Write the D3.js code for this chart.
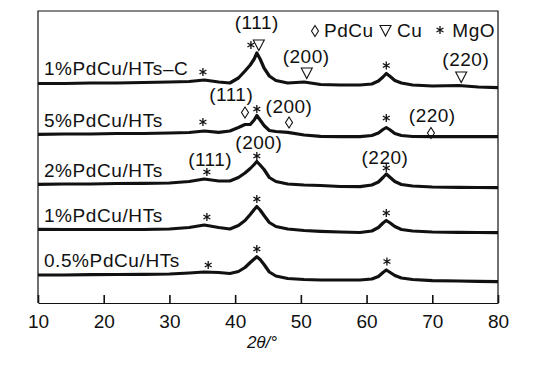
<!DOCTYPE html>
<html>

<head>
  <meta charset="utf-8">
  <style>
    body { margin: 0; background: #fff; }
    text { font-family: "Liberation Sans", Arial, sans-serif; fill: #111; }
  </style>
</head>

<body>
  <script src="https://d3js.org/d3.v7.min.js"></script>
  <script>
    // 2theta grid (deg) shared by every pattern
    var twoTheta = [10, 14, 18, 22, 26, 30, 33, 35.3, 37.5, 39.2, 40.5, 41.5, 42.3, 42.9, 43.3, 43.8, 44.4, 45.2, 46.2, 48,
      50.5, 53, 56, 59, 60.8, 61.8, 62.5, 63, 63.6, 64.3, 65.3, 67, 70, 74, 77, 80];

    // stacked intensities (a.u., offsets included)
    var pdcuHtsC = [219.5, 219.5, 220, 220, 220.5, 221, 221.5, 223, 221, 220, 225, 232, 238, 244, 250, 244, 235, 227, 222.5, 220,
      221, 218.5, 218, 218, 219, 222, 226, 229.5, 226.5, 222.5, 220, 218, 217, 217.5, 216, 215.3];
    var pdcu5 = [168.7, 169, 169, 169.5, 169.5, 170, 170.5, 172, 170.7, 172, 175.5, 178.5, 178.5, 183, 187.5, 183, 177.5, 172.5, 171.5, 170.7,
      168, 166.7, 166.3, 166.3, 167.5, 170, 173.5, 175.5, 173, 169.5, 167.5, 166.5, 166.3, 166.3, 166.3, 166.3];
    var pdcu2 = [118.7, 119, 119, 119.5, 119.7, 120, 121.5, 124, 122, 122, 125.5, 130, 134.5, 138.5, 141.5, 138, 133.5, 125.5, 121.5, 119,
      118, 117.5, 116.5, 116.3, 118, 121, 125.5, 129, 125.5, 121.5, 118.5, 117, 116, 115.7, 115.5, 115.3];
    var pdcu1 = [73.7, 73.5, 73.5, 73.5, 73.5, 74, 75.5, 78, 75.5, 74, 77.5, 82.5, 88.5, 93.5, 96.5, 93, 87.5, 80.5, 76.5, 74,
      72.5, 71.7, 71, 70.5, 72, 75.5, 80, 82.5, 80, 76.5, 73.5, 72, 71, 70.7, 70.5, 70.3];
    var pdcu05 = [28, 28, 28.3, 28.5, 28.7, 29, 30, 31, 30.5, 29.5, 31.5, 35.5, 40.5, 44, 46.3, 43.5, 38.5, 31, 27, 24.5,
      23.5, 23, 23, 23, 24, 26.5, 30.5, 33, 30.5, 27.5, 25, 23.5, 22.3, 22, 21.7, 21.3];

    var seriesNames = ["1%PdCu/HTs\u2013C", "5%PdCu/HTs", "2%PdCu/HTs", "1%PdCu/HTs", "0.5%PdCu/HTs"];
    var seriesValues = [pdcuHtsC, pdcu5, pdcu2, pdcu1, pdcu05];
    var labelLevel = [228, 176.5, 126.5, 81.5, 36.5];

    var xTicks = [10, 20, 30, 40, 50, 60, 70, 80];

    // phase markers [2theta, level]
    var mgoMarks = [[35.1, 231], [42.4, 258], [63, 237.5],
      [35.1, 181], [43.3, 194], [63, 185],
      [35.7, 131], [43.3, 147], [63, 135],
      [35.7, 86], [43.3, 104], [63, 90],
      [35.9, 38], [43.3, 54], [63.1, 41.5]];
    var cuMarks = [[43.6, 258], [50.9, 230], [74.4, 226]];
    var pdcuMarks = [[41.5, 190.5], [48.2, 180.5], [69.8, 170]];
    // hkl labels [text, 2theta, level]
    var hklLabels = [["(111)", 43.3, 274], ["(200)", 50.8, 240], ["(220)", 75.1, 237],
      ["(111)", 39.4, 202], ["(200)", 48.2, 190], ["(220)", 70, 181],
      ["(111)", 36.2, 137], ["(200)", 43.6, 154], ["(220)", 62.8, 139]];

    var margin = { top: 11, left: 38, right: 39, bottom: 63 },
      width = 537 - margin.left - margin.right,
      height = 366 - margin.top - margin.bottom;

    var svg = d3.select("body").append("svg")
      .attr("width", 537)
      .attr("height", 366)
      .append("g")
      .attr("transform", "translate(" + margin.left + "," + margin.top + ")");

    var x = d3.scaleLinear().domain([10, 80]).range([0, width]);
    var y = d3.scaleLinear().domain([0, height]).range([height, 0]);

    var line = d3.line()
      .x(function(d, i) { return x(twoTheta[i]); })
      .y(function(d) { return y(d); });

    svg.selectAll(".trace")
      .data(seriesValues)
      .enter().append("path")
      .attr("class", "trace")
      .attr("d", line)
      .attr("fill", "none")
      .attr("stroke", "#111")
      .attr("stroke-width", 3.2)
      .attr("stroke-linejoin", "round");

    // frame
    svg.append("path")
      .attr("d", "M0," + height + "V0H" + width + "V" + height)
      .attr("fill", "none")
      .attr("stroke", "#111")
      .attr("stroke-width", 1.2);

    var xAxis = svg.append("g")
      .attr("transform", "translate(0," + height + ")")
      .call(d3.axisBottom(x).tickValues(xTicks).tickSizeInner(-8).tickSizeOuter(0).tickPadding(11.5));
    xAxis.select(".domain").attr("stroke", "#111").attr("stroke-width", 1.2);
    xAxis.selectAll(".tick line").attr("stroke", "#111").attr("stroke-width", 1.6);
    xAxis.selectAll(".tick text")
      .style("font-family", "'Liberation Sans', Arial, sans-serif")
      .style("font-size", "19px")
      .attr("fill", "#111");

    svg.append("text")
      .attr("x", 224)
      .attr("y", 337)
      .attr("text-anchor", "middle")
      .style("font-size", "17px")
      .style("font-style", "italic")
      .text("2\u03b8/\u00b0");

    // series names
    svg.selectAll(".name")
      .data(seriesNames)
      .enter().append("text")
      .attr("class", "name")
      .attr("x", x(10.9))
      .attr("y", function(d, i) { return y(labelLevel[i]); })
      .style("font-size", "19px")
      .style("letter-spacing", "0.6px")
      .text(function(d) { return d; });

    svg.selectAll(".hkl")
      .data(hklLabels)
      .enter().append("text")
      .attr("class", "hkl")
      .attr("x", function(d) { return x(d[1]); })
      .attr("y", function(d) { return y(d[2]); })
      .attr("text-anchor", "middle")
      .style("font-size", "19px")
      .style("letter-spacing", "0.5px")
      .text(function(d) { return d[0]; });

    var star = "M0,-4V4M-3.46,-2L3.46,2M-3.46,2L3.46,-2";
    var tri = "M-5.5,-5L5.5,-5L0,5.5Z";
    var diamond = "M0,-5.5L3.5,0L0,5.5L-3.5,0Z";

    function marks(data, shape, sw) {
      svg.append("g").selectAll("path")
        .data(data)
        .enter().append("path")
        .attr("transform", function(d) { return "translate(" + x(d[0]) + "," + y(d[1]) + ")"; })
        .attr("d", shape)
        .attr("fill", "none")
        .attr("stroke", "#111")
        .attr("stroke-width", sw);
    }
    marks(mgoMarks, star, 1.3);
    marks(cuMarks, tri, 1.1);
    marks(pdcuMarks, diamond, 1.1);

    // legend
    var legend = svg.append("g");
    legend.append("path").attr("transform", "translate(277,20)").attr("d", diamond)
      .attr("fill", "none").attr("stroke", "#111").attr("stroke-width", 1.1);
    legend.append("text").attr("x", 286).attr("y", 25.5).style("font-size", "19px").style("letter-spacing", "0.5px").text("PdCu");
    legend.append("path").attr("transform", "translate(347.5,19.5)").attr("d", tri)
      .attr("fill", "none").attr("stroke", "#111").attr("stroke-width", 1.1);
    legend.append("text").attr("x", 359).attr("y", 25.5).style("font-size", "19px").style("letter-spacing", "0.5px").text("Cu");
    legend.append("path").attr("transform", "translate(402,19)").attr("d", star)
      .attr("fill", "none").attr("stroke", "#111").attr("stroke-width", 1.3);
    legend.append("text").attr("x", 457).attr("y", 25.5).attr("text-anchor", "end").style("font-size", "19px").style("letter-spacing", "0.5px").text("MgO");
  </script>
</body>

</html>
